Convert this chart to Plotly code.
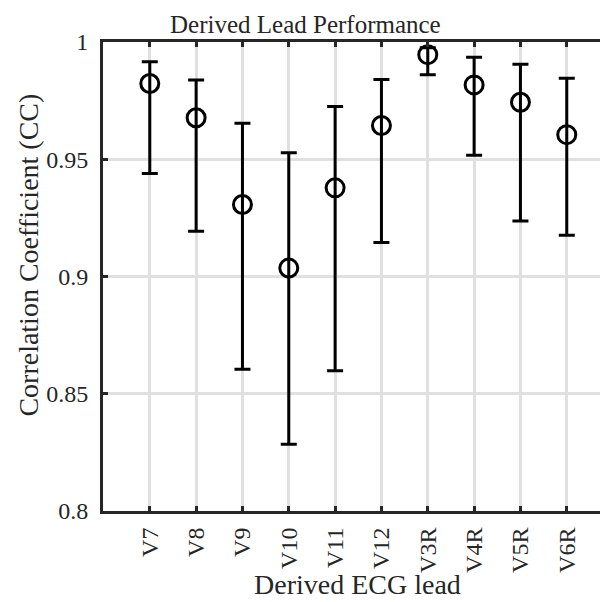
import plotly.graph_objects as go

leads = ["V7", "V8", "V9", "V10", "V11", "V12", "V3R", "V4R", "V5R", "V6R"]
cc_mean = [0.9823, 0.9677, 0.9307, 0.9036, 0.9378, 0.9644, 0.9946, 0.9817, 0.9743, 0.9605]
cc_upper = [0.9916, 0.9838, 0.9654, 0.9528, 0.9725, 0.9840, 0.9976, 0.9935, 0.9905, 0.9845]
cc_lower = [0.9439, 0.9193, 0.8605, 0.8285, 0.8598, 0.9145, 0.9860, 0.9517, 0.9237, 0.9176]
y_ticks = [0.8, 0.85, 0.9, 0.95, 1.0]
y_tick_text = ["0.8", "0.85", "0.9", "0.95", "1"]

err_plus = [u - m for u, m in zip(cc_upper, cc_mean)]
err_minus = [m - l for m, l in zip(cc_mean, cc_lower)]

FONT = "Liberation Serif"
AX = "#262626"

# page body has an 8px margin, so work in figure-local coordinates (page - 8)
W, H = 600, 594
L, T = 94.5, 33.5
B = 503.5
PW, PH = W - L, B - T

def px(xp):
    return (xp - 8 - L) / PW

def py(yp):
    return (B - (yp - 8)) / PH

fig = go.Figure()
fig.add_trace(go.Scatter(
    x=leads, y=cc_mean, mode="markers",
    marker=dict(symbol="circle-open", size=18, color="black", line=dict(width=3, color="black")),
    error_y=dict(type="data", symmetric=False, array=err_plus, arrayminus=err_minus,
                 color="black", thickness=3, width=8),
    showlegend=False,
))

fig.update_layout(
    width=W, height=H,
    margin=dict(l=L, r=0, t=T, b=H - B, autoexpand=False),
    paper_bgcolor="white", plot_bgcolor="white",
    font=dict(family=FONT, size=22, color=AX),
    xaxis=dict(
        type="category", range=[-1.01, 9.89],
        showgrid=True, gridcolor="#e0e0e0", gridwidth=3,
        showline=True, linecolor=AX, linewidth=3, mirror="ticks",
        ticks="inside", ticklen=5, tickwidth=3, tickcolor=AX,
        tickangle=-90, tickfont=dict(family=FONT, size=24, color=AX),
        ticklabelstandoff=4,
        zeroline=False,
    ),
    yaxis=dict(
        range=[0.8, 1.0], tickvals=y_ticks, ticktext=y_tick_text,
        showgrid=True, gridcolor="#e0e0e0", gridwidth=3,
        showline=True, linecolor=AX, linewidth=3,
        ticks="inside", ticklen=5, tickwidth=3, tickcolor=AX,
        tickfont=dict(family=FONT, size=24, color=AX),
        ticklabelstandoff=7,
        zeroline=False,
    ),
    annotations=[
        dict(text="Derived Lead Performance", xref="paper", yref="paper",
             x=px(305), y=1 + T / PH, yanchor="top", xanchor="center", showarrow=False,
             font=dict(family=FONT, size=25, color=AX)),
        dict(text="Derived ECG lead", xref="paper", yref="paper",
             x=px(357.5), y=py(585), yanchor="middle", xanchor="center", showarrow=False,
             font=dict(family=FONT, size=28, color=AX)),
        dict(text="Correlation Coefficient (CC)", xref="paper", yref="paper",
             x=px(27), y=py(255), yanchor="middle", xanchor="center", showarrow=False,
             textangle=-90, font=dict(family=FONT, size=28, color=AX)),
    ],
)

fig.write_html("out.html")
